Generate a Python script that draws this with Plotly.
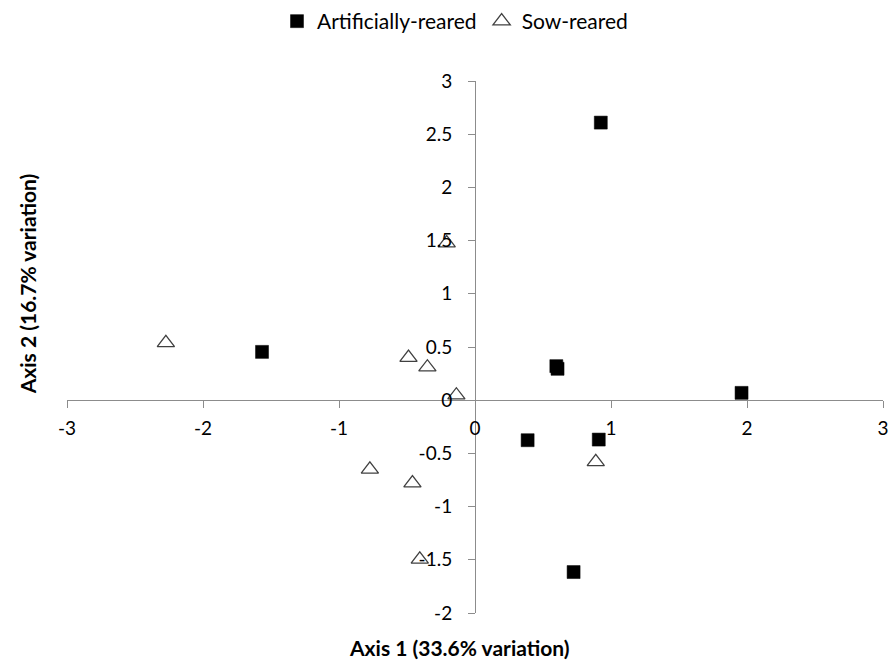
import plotly.graph_objects as go

# PCA scores (Axis 1, Axis 2) for each animal, by rearing group
art_x = [-1.566, 0.925, 0.598, 0.607, 1.960, 0.387, 0.910, 0.725]
art_y = [0.454, 2.609, 0.320, 0.295, 0.069, -0.376, -0.370, -1.615]

sow_x = [-2.273, -0.489, -0.350, -0.137, -0.773, -0.460, -0.406, -0.208, 0.888]
sow_y = [0.539, 0.400, 0.310, 0.047, -0.650, -0.780, -1.496, 1.477, -0.580]

x_ticks = [-3, -2, -1, 0, 1, 2, 3]
x_tick_text = ["-3", "-2", "-1", "0", "1", "2", "3"]
y_ticks = [-2, -1.5, -1, -0.5, 0, 0.5, 1, 1.5, 2, 2.5, 3]
y_tick_text = ["-2", "-1.5", "-1", "-0.5", "0", "0.5", "1", "1.5", "2", "2.5", "3"]

FONT = "Lato"
AXIS_GREY = "#8c8c8c"

fig = go.Figure()

fig.add_trace(go.Scatter(
    x=art_x, y=art_y, mode="markers", name="Artificially-reared",
    marker=dict(symbol="square", size=13, color="black",
                line=dict(color="black", width=0.5)),
))
fig.add_trace(go.Scatter(
    x=sow_x, y=sow_y, mode="markers", name="Sow-reared",
    marker=dict(symbol="triangle-up-open", size=15, color="#404040",
                line=dict(color="#404040", width=1.3)),
))

axis_common = dict(
    showgrid=False, zeroline=False, showline=True,
    linecolor=AXIS_GREY, linewidth=1,
    ticks="outside", ticklen=7, tickwidth=1, tickcolor=AXIS_GREY,
    tickfont=dict(family=FONT, size=19, color="black"),
    automargin=False, fixedrange=True,
)

fig.update_layout(
    width=894, height=662,
    margin=dict(l=67, r=11, t=81, b=49),
    paper_bgcolor="white", plot_bgcolor="white",
    font=dict(family=FONT, color="black"),
    xaxis=dict(range=[-3, 3], tickvals=x_ticks, ticktext=x_tick_text,
               anchor="free", position=0.4, ticklabelstandoff=4,
               **axis_common),
    yaxis=dict(range=[-2, 3], tickvals=y_ticks, ticktext=y_tick_text,
               anchor="free", position=0.5, ticklabelstandoff=12,
               **axis_common),
    showlegend=True,
    legend=dict(orientation="h", xref="container", yref="container",
                x=277 / 894, xanchor="left", y=1 - 1 / 662, yanchor="top",
                font=dict(family=FONT, size=21, color="black"),
                itemwidth=30, tracegroupgap=0, bgcolor="rgba(0,0,0,0)"),
    annotations=[
        dict(text="<b>Axis 1 (33.6% variation)</b>", xref="paper", yref="paper",
             x=(459.5 - 67) / 816, y=(612.7 - 647) / 532,
             xanchor="center", yanchor="middle", showarrow=False,
             font=dict(family=FONT, size=21, color="black")),
        dict(text="<b>Axis 2 (16.7% variation)</b>", xref="paper", yref="paper",
             x=(27 - 67) / 816, y=(612.7 - 284) / 532, textangle=-90,
             xanchor="center", yanchor="middle", showarrow=False,
             font=dict(family=FONT, size=21, color="black")),
    ],
)

fig.write_html("out.html")
